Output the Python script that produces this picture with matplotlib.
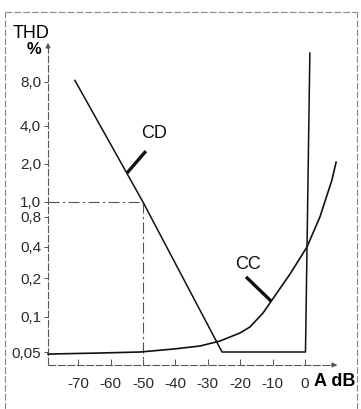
import matplotlib
matplotlib.use("Agg")

import matplotlib.pyplot as plt
import numpy as np
from matplotlib.lines import Line2D

plt.rcParams["font.family"] = ["Liberation Sans", "DejaVu Sans"]

# values
x_ticks = [-70, -60, -50, -40, -30, -20, -10, 0]
y_ticks = [0.05, 0.1, 0.2, 0.4, 0.8, 1.0, 2.0, 4.0, 8.0]
y_tick_labels = ["0,05", "0,1", "0,2", "0,4", "0,8", "1,0", "2,0", "4,0", "8,0"]

cd_db = [-71.0, -50.0, -25.6, 0.15, 1.5]
cd_thd = [8.2, 1.0, 0.05, 0.05, 12.5]

cc_db = [-79.3, -63.3, -50.9, -40.7, -32.4, -26.2, -20.1, -17.0, -13.0,
         -10.2, -4.6, 0.6, 4.6, 8.3, 9.6]
cc_thd = [0.048, 0.049, 0.05, 0.053, 0.0563, 0.0622, 0.0728, 0.082, 0.107,
          0.135, 0.219, 0.4, 0.8, 1.49, 2.07]

# the hand drawn y axis is not quite logarithmic: knots of the scale
scale_vals = np.log10([0.01, 0.05, 0.1, 0.2, 0.4, 0.8, 1.0, 2.0, 4.0, 8.0, 32.0])
scale_pos = np.array([-68, 13, 48, 87, 118, 148, 163, 201, 239, 283, 373], float)


def fwd(v):
    v = np.clip(np.asarray(v, float), 1e-6, None)
    return np.interp(np.log10(v), scale_vals, scale_pos)


def inv(h):
    return 10 ** np.interp(np.asarray(h, float), scale_pos, scale_vals)


ink = "#111111"
axis_grey = "#555555"

fig = plt.figure(figsize=(3.61, 4.09), dpi=100)
ax = fig.add_axes([48 / 361, 1 - 365 / 409, 292 / 361, 325 / 409])
ax.set_yscale("function", functions=(fwd, inv))
ax.set_xlim(-79.3, 10.8)
ax.set_ylim(float(inv(0)), float(inv(325)))

for s in ax.spines.values():
    s.set_visible(False)

# axes drawn as thin dashed lines with arrow heads
ax.plot([0, 0.985], [0, 0], transform=ax.transAxes, color=axis_grey,
        lw=0.8, ls=(0, (7, 1.5)), clip_on=False)
ax.plot([0, 0], [0, 0.985], transform=ax.transAxes, color=axis_grey,
        lw=0.8, ls=(0, (7, 1.5)), clip_on=False)
ax.annotate("", xy=(1.0, 0), xytext=(0.96, 0), xycoords="axes fraction",
            arrowprops=dict(arrowstyle="-|>", color=axis_grey, lw=0.8,
                            mutation_scale=7))
ax.annotate("", xy=(0, 1.0), xytext=(0, 0.965), xycoords="axes fraction",
            arrowprops=dict(arrowstyle="-|>", color=axis_grey, lw=0.8,
                            mutation_scale=7))

ax.set_xticks(x_ticks)
ax.set_xticklabels([str(t) for t in x_ticks])
ax.set_yticks(y_ticks)
ax.set_yticklabels(y_tick_labels)
ax.minorticks_off()
ax.tick_params(axis="x", direction="in", length=4, width=0.7, color=axis_grey,
               pad=9, labelsize=11, labelcolor="#2a2a2a")
ax.tick_params(axis="y", direction="out", length=3, width=0.7, color=axis_grey,
               pad=2, labelsize=11, labelcolor="#2a2a2a")

# reference lines at -50 dB / 1 %
ax.plot([-79.3, -50], [1.0, 1.0], color=axis_grey, lw=0.8,
        ls=(0, (10, 3, 2, 3)))
ax.plot([-50, -50], [1.0, float(inv(0))], color=axis_grey, lw=0.8,
        ls=(0, (10, 3, 2, 3)), clip_on=False)

ax.plot(cd_db, cd_thd, color=ink, lw=1.1, clip_on=False)
ax.plot(cc_db, cc_thd, color=ink, lw=1.2, clip_on=False)

# labels with leader lines
ax.plot([-49.1, -54.9], [2.53, 1.7], color=ink, lw=2.4, solid_capstyle="butt")
ax.text(-46.6, 3.52, "CD", fontsize=13, ha="center", va="center", color=ink)
ax.plot([-18.2, -10.5], [0.205, 0.133], color=ink, lw=2.4,
        solid_capstyle="butt")
ax.text(-17.6, 0.27, "CC", fontsize=13, ha="center", va="center", color=ink)

fig.text(13 / 361, 1 - 34 / 409, "THD", fontsize=13, ha="left",
         va="center", color="black")
fig.text(34 / 361, 1 - 49 / 409, "%", fontsize=12, fontweight="bold",
         ha="center", va="center", color="black")
fig.text(335 / 361, 1 - 382 / 409, "A dB", fontsize=13, fontweight="bold",
         ha="center", va="center", color="black")

# scan border
border = dict(color="#888888", lw=0.8, ls=(0, (6, 2)))
fig.add_artist(Line2D([5 / 361, 5 / 361], [0, 1 - 12 / 409], **border))
fig.add_artist(Line2D([5 / 361, 357 / 361], [1 - 12 / 409, 1 - 12 / 409], **border))
fig.add_artist(Line2D([357 / 361, 357 / 361], [0, 1 - 12 / 409], **border))

fig.savefig("out.png", dpi=100)
plt.close(fig)
